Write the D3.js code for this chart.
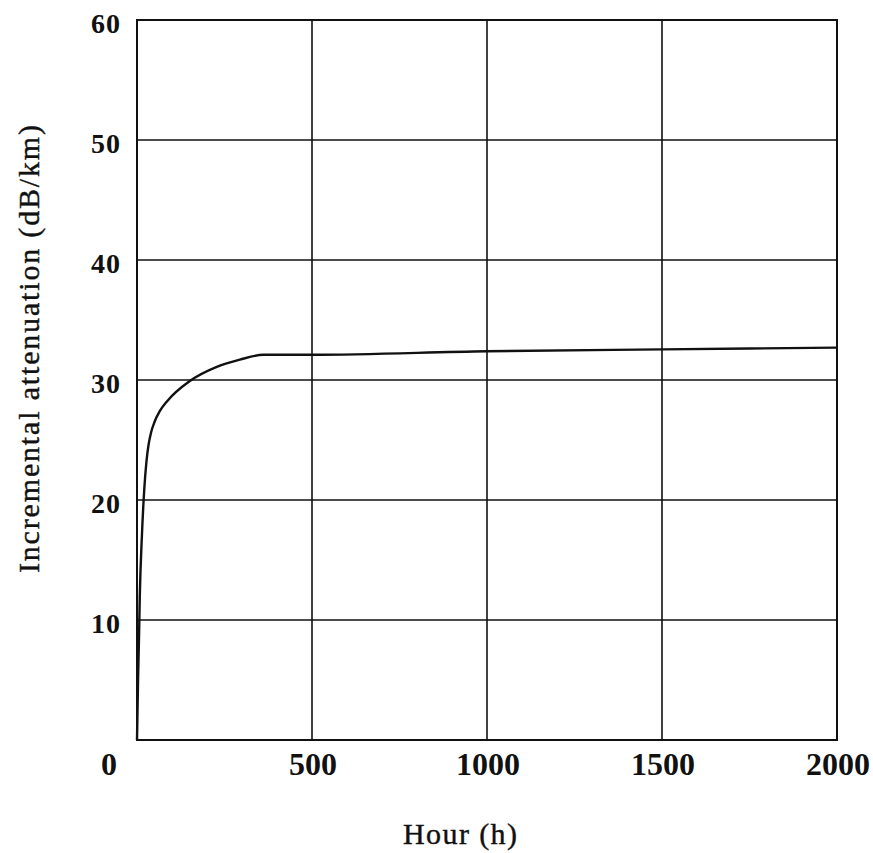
<!DOCTYPE html>
<html>
<head>
<meta charset="utf-8">
<script src="https://d3js.org/d3.v7.min.js"></script>
<style>
  body { margin: 0; background: #fff; }
  svg { display: block; }
  text { fill: #111; }
</style>
</head>
<body>
<svg id="chart" width="873" height="853"></svg>
<script>
// Data
const hours = [0, 3, 6, 8, 14, 21, 27, 33, 40, 50, 65, 88, 150, 228, 294, 361, 380, 500, 1000, 1500, 2000];
const attenuation = [0, 5, 8.9, 12, 17, 21, 23.2, 24.6, 25.6, 26.5, 27.4, 28.3, 29.9, 31.1, 31.7, 32.1, 32.1, 32.1, 32.4, 32.55, 32.7];
const xTicks = [500, 1000, 1500, 2000];
const yTicks = [10, 20, 30, 40, 50, 60];

// Sizing
const margin = {top: 20, right: 36, bottom: 113, left: 137};
const svgWidth = 873;
const svgHeight = 853;
const width = svgWidth - margin.left - margin.right;
const height = svgHeight - margin.top - margin.bottom;

const xScale = d3.scaleLinear()
  .domain([0, 2000])
  .range([margin.left, margin.left + width]);

const yScale = d3.scaleLinear()
  .domain([0, 60])
  .range([margin.top + height, margin.top]);

const svg = d3.select("svg#chart");

// grid
svg.append("g")
  .selectAll("line.vgrid")
  .data(xTicks.slice(0, -1))
  .enter()
  .append("line")
  .attr("class", "vgrid")
  .attr("x1", d => xScale(d))
  .attr("x2", d => xScale(d))
  .attr("y1", yScale(0))
  .attr("y2", yScale(60))
  .attr("stroke", "#111")
  .attr("stroke-width", 1.6);

svg.append("g")
  .selectAll("line.hgrid")
  .data(yTicks.slice(0, -1))
  .enter()
  .append("line")
  .attr("class", "hgrid")
  .attr("x1", xScale(0))
  .attr("x2", xScale(2000))
  .attr("y1", d => yScale(d))
  .attr("y2", d => yScale(d))
  .attr("stroke", "#111")
  .attr("stroke-width", 1.4);

// frame
svg.append("rect")
  .attr("x", xScale(0))
  .attr("y", yScale(60))
  .attr("width", xScale(2000) - xScale(0))
  .attr("height", yScale(0) - yScale(60))
  .attr("fill", "none")
  .attr("stroke", "#111")
  .attr("stroke-width", 2);

// y tick labels
svg.append("g")
  .selectAll("text.ytick")
  .data(yTicks)
  .enter()
  .append("text")
  .attr("class", "ytick")
  .attr("x", margin.left - 16)
  .attr("y", d => yScale(d) + 3)
  .attr("text-anchor", "end")
  .attr("dominant-baseline", "central")
  .style("font-family", "'Liberation Serif', serif")
  .style("font-size", "28px")
  .style("font-weight", "bold")
  .style("letter-spacing", "1px")
  .text(d => d);

// x tick labels (the 0 sits at the corner, left of the axis)
svg.append("g")
  .selectAll("text.xtick")
  .data(xTicks)
  .enter()
  .append("text")
  .attr("class", "xtick")
  .attr("x", d => xScale(d) + 1)
  .attr("y", 775)
  .attr("text-anchor", "middle")
  .style("font-family", "'Liberation Serif', serif")
  .style("font-size", "32px")
  .style("font-weight", "bold")
  .text(d => d);

svg.append("text")
  .attr("x", xScale(0) - 28)
  .attr("y", 775)
  .attr("text-anchor", "middle")
  .style("font-family", "'Liberation Serif', serif")
  .style("font-size", "32px")
  .style("font-weight", "bold")
  .text("0");

// axis titles
svg.append("text")
  .attr("x", 403)
  .attr("y", 844)
  .attr("textLength", 114)
  .attr("lengthAdjust", "spacing")
  .style("font-family", "'Liberation Serif', serif")
  .style("font-size", "30px")
  .style("stroke", "#111")
  .style("stroke-width", 0.4)
  .text("Hour (h)");

svg.append("text")
  .attr("transform", "translate(39,573) rotate(-90)")
  .attr("textLength", 448)
  .attr("lengthAdjust", "spacing")
  .style("font-family", "'Liberation Serif', serif")
  .style("font-size", "30px")
  .style("stroke", "#111")
  .style("stroke-width", 0.4)
  .text("Incremental attenuation (dB/km)");

// curve
const points = hours.map((h, i) => ({hour: h, value: attenuation[i]}));

const line = d3.line()
  .x(d => xScale(d.hour))
  .y(d => yScale(d.value))
  .curve(d3.curveMonotoneX);

svg.append("path")
  .attr("d", line(points))
  .attr("fill", "none")
  .attr("stroke", "#111")
  .attr("stroke-width", 2.4);
</script>
</body>
</html>
